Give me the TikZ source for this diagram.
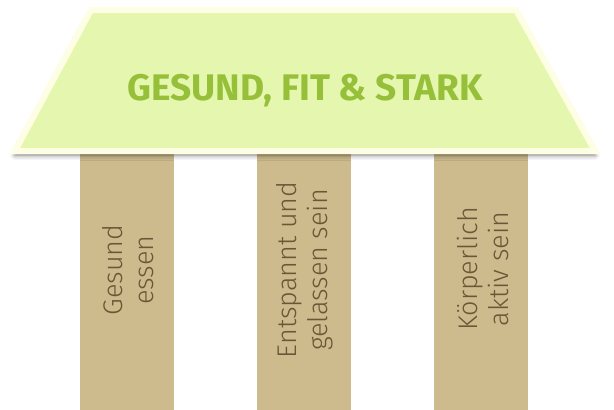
\documentclass[tikz,border=0pt]{standalone}
\usepackage{fontspec}
\setmainfont{Fira Sans}
\newfontfamily\pillarfont{Fira Sans Light}
\usetikzlibrary{positioning,shadows.blur}

\definecolor{roofgreen}{HTML}{E5F7AE}
\definecolor{roofrim}{HTML}{FEFEE4}
\definecolor{titlegreen}{HTML}{97C03A}
\definecolor{pillartan}{HTML}{CDBB8E}
\definecolor{pillarbrown}{HTML}{6B5738}

\tikzset{
  pillar/.style={rectangle, fill=pillartan, minimum width=94pt, minimum height=256pt, inner sep=0pt, anchor=north},
  pillarlabel/.style={rotate=90, align=center, text=pillarbrown, inner sep=0pt,
    font=\pillarfont\fontsize{27}{31}\selectfont},
  roof/.style={fill=roofgreen, draw=roofrim, line width=6pt, line join=miter,
    blur shadow={shadow xshift=0pt, shadow yshift=-4pt, shadow blur radius=5pt, shadow opacity=55}},
  title/.style={text=titlegreen, font=\bfseries\fontsize{37}{42}\selectfont}
}

\begin{document}
\begin{tikzpicture}[x=1pt,y=-1pt]
 \useasboundingbox (0,0) rectangle (614,410);

 % pillars
 \node[pillar] (p1) at (127,154) {};
 \node[pillar] (p2) at (304,154) {};
 \node[pillar] (p3) at (481,154) {};

 \node[pillarlabel] (l1) at (128,270) {Gesund\\essen};
 \node[pillarlabel] (l2) at (305,270) {Entspannt und\\gelassen sein};
 \node[pillarlabel] (l3) at (483,269) {Körperlich\\aktiv sein};

 % roof
 \draw[roof] (91,10) -- (516,10) -- (595,151) -- (15,151) -- cycle;
 \node[title] (t) at (305,91) {GESUND, FIT \& STARK};
\end{tikzpicture}
\end{document}
